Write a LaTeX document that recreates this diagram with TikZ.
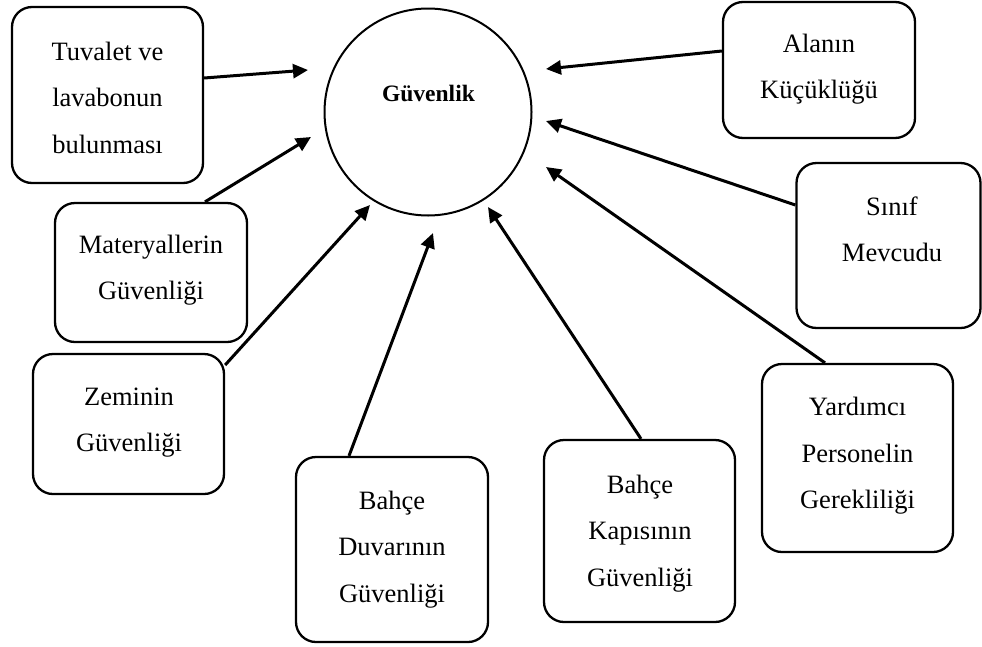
\documentclass[tikz,border=0pt]{standalone}
\usepackage{fontspec}
\setmainfont{Liberation Serif}
\usetikzlibrary{arrows.meta,calc}

\tikzset{
  factor/.style={draw, line width=2.3pt, rounded corners=20pt, inner sep=0pt},
  factortext/.style={align=center, inner sep=0pt,
    font=\fontsize{26.5}{46.5}\selectfont},
  hub/.style={draw, circle, line width=2pt, inner sep=0pt, minimum size=207pt},
  influence/.style={line width=3pt, -{Triangle[length=15pt,width=14pt]}}
}

\begin{document}
\begin{tikzpicture}[x=1pt,y=-1pt]
\useasboundingbox (0,0) rectangle (982,646);

% central concept
\node[hub] (hub) at (428,112) {};
\node[anchor=base, inner sep=0pt, font=\fontsize{23.5}{28}\selectfont\bfseries]
  (hubT) at (428.5,101) {Güvenlik};

% surrounding factors (frames)
\node[factor, minimum width=191pt, minimum height=176pt] (tuv) at (107.5,95)  {};
\node[factor, minimum width=192pt, minimum height=136pt] (ala) at (819,70)    {};
\node[factor, minimum width=192pt, minimum height=139pt] (mat) at (151,272.5) {};
\node[factor, minimum width=184pt, minimum height=165pt] (sin) at (888.5,245.5) {};
\node[factor, minimum width=191pt, minimum height=140pt] (zem) at (128.5,424) {};
\node[factor, minimum width=192pt, minimum height=185pt] (duv) at (392,549.5) {};
\node[factor, minimum width=191pt, minimum height=182pt] (kap) at (639.5,531) {};
\node[factor, minimum width=191pt, minimum height=188pt] (yar) at (857.5,458) {};

% factor labels
\node[factortext] (tuvT) at (107.5,97.2) {\strut Tuvalet ve\\\strut lavabonun\\\strut bulunması};
\node[factortext] (alaT) at (819,66)     {\strut Alanın\\\strut Küçüklüğü};
\node[factortext] (matT) at (151,267)    {\strut Materyallerin\\\strut Güvenliği};
\node[factortext] (sinT) at (892,229)    {\strut Sınıf\\\strut Mevcudu};
\node[factortext] (zemT) at (129,419)    {\strut Zeminin\\\strut Güvenliği};
\node[factortext] (duvT) at (392,546.2)  {\strut Bahçe\\\strut Duvarının\\\strut Güvenliği};
\node[factortext] (kapT) at (640,530.2)  {\strut Bahçe\\\strut Kapısının\\\strut Güvenliği};
\node[factortext] (yarT) at (857.5,453)  {\strut Yardımcı\\\strut Personelin\\\strut Gerekliliği};

% arrow tips around the central circle
\coordinate (pTuv) at (308,70);
\coordinate (pMat) at (311,137);
\coordinate (pZem) at (370,205);
\coordinate (pDuv) at (433,233);
\coordinate (pKap) at (488,207);
\coordinate (pYar) at (546,167);
\coordinate (pSin) at (546,121);
\coordinate (pAla) at (546,69);

% influences
\draw[influence] ($(tuv.east)+(0,-17)$)  -- (pTuv);
\draw[influence] ($(mat.north)+(54,0)$)  -- (pMat);
\draw[influence] ($(zem.east)+(0,-59)$)  -- (pZem);
\draw[influence] ($(duv.north)+(-43,0)$) -- (pDuv);
\draw[influence] ($(kap.north)+(1.5,0)$) -- (pKap);
\draw[influence] ($(yar.north)+(-32.5,0)$) -- (pYar);
\draw[influence] ($(sin.west)+(0,-40.5)$) -- (pSin);
\draw[influence] ($(ala.west)+(0,-19)$)  -- (pAla);
\end{tikzpicture}
\end{document}
